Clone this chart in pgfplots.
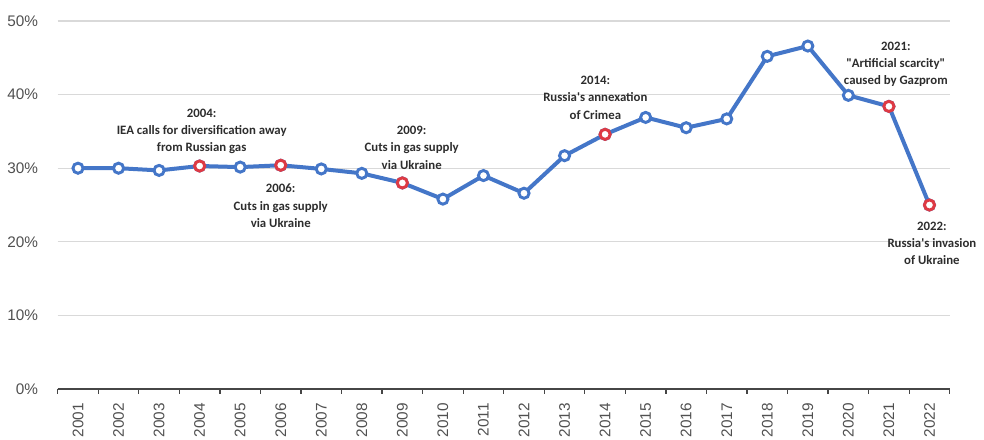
\documentclass[border=0pt]{standalone}
\usepackage{pgfplots}
\pgfplotsset{compat=1.18}
\usepackage{fontspec}
\setmainfont{Liberation Sans}
\newfontfamily\annfont{Carlito}
\definecolor{lineblue}{RGB}{68,118,200}
\definecolor{markred}{RGB}{222,58,68}
\definecolor{gridgray}{RGB}{217,217,217}
\definecolor{ticktext}{RGB}{80,80,80}
\definecolor{anntext}{RGB}{45,45,45}
\begin{document}
\begin{tikzpicture}
\path[use as bounding box] (-43.3pt,-37.5pt) rectangle (694.7pt,291.75pt);
\begin{axis}[
  scale only axis,
  width=669pt, height=276pt,
  xmin=0.5, xmax=22.5, ymin=0, ymax=50,
  enlargelimits=false,
  clip=false,
  axis x line*=bottom,
  axis y line*=left,
  x axis line style={-, color={rgb,255:red,70;green,70;blue,70}, line width=1.1pt},
  y axis line style={draw=none},
  xtick={0.5,1.5,...,22.5},
  x tick label as interval,
  xticklabels={2001,2002,2003,2004,2005,2006,2007,2008,2009,2010,2011,2012,2013,2014,2015,2016,2017,2018,2019,2020,2021,2022},
  xticklabel style={font=\fontsize{11.5}{13}\selectfont, text=ticktext, yshift=-7pt, rotate=90, anchor=east, inner sep=0pt},
  x tick style={color={rgb,255:red,70;green,70;blue,70}, line width=1pt},
  tick align=outside,
  major tick length=3.5pt,
  ytick={0,10,20,30,40,50},
  yticklabel={\pgfmathprintnumber{\tick}\%},
  yticklabel style={font=\fontsize{11.5}{13}\selectfont, text=ticktext, inner sep=0pt, anchor=east, xshift=-11pt},
  y tick style={draw=none},
  ymajorgrids,
  grid style={gridgray, line width=1pt},
  /pgf/number format/assume math mode=true,
]
\addplot[lineblue, line width=3pt, mark=*, mark size=3.8pt,
  mark options={fill=white, draw=lineblue, line width=2.2pt, solid}]
coordinates {
(1,30.0) (2,30.0) (3,29.7) (4,30.3) (5,30.15) (6,30.4) (7,29.9) (8,29.3)
(9,28.0) (10,25.8) (11,29.0) (12,26.6) (13,31.7) (14,34.6) (15,36.9)
(16,35.5) (17,36.7) (18,45.2) (19,46.6) (20,39.9) (21,38.4) (22,25.0)
};
\addplot[only marks, mark=*, mark size=3.8pt,
  mark options={fill=white, draw=markred, line width=2.2pt, solid}]
coordinates {
(4,30.3) (6,30.4) (9,28.0) (14,34.6) (21,38.4) (22,25.0)
};
\begin{scope}[every node/.style={font=\annfont\bfseries\fontsize{9.6}{13}\selectfont, text=anntext, align=center, inner sep=0pt}]
\node at (axis cs:4.05,35.0) {2004:\\IEA calls for diversification away\\from Russian gas};
\node at (axis cs:9.23,32.8) {2009:\\Cuts in gas supply\\via Ukraine};
\node at (axis cs:6.0,24.9) {2006:\\Cuts in gas supply\\via Ukraine};
\node at (axis cs:13.76,39.6) {2014:\\Russia's annexation\\of Crimea};
\node at (axis cs:21.17,44.1) {2021:\\"Artificial scarcity"\\caused by Gazprom};
\node at (axis cs:22.06,19.8) {2022:\\Russia's invasion\\of Ukraine};
\end{scope}
\end{axis}
\end{tikzpicture}
\end{document}
